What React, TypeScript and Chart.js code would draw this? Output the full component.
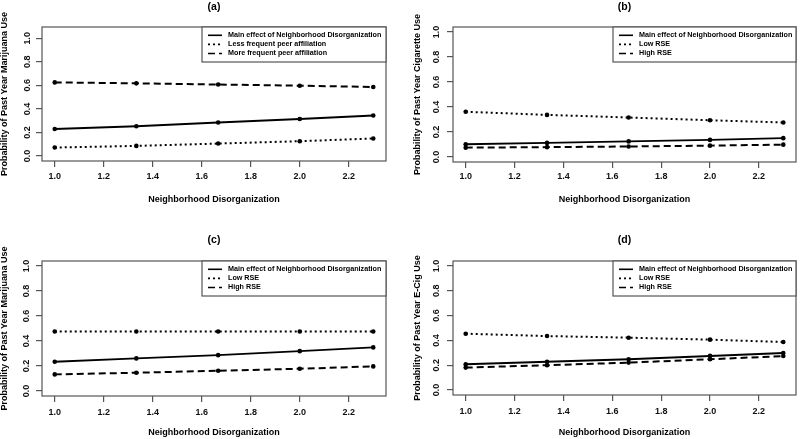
import React, { useEffect, useRef } from 'react';
import { Chart, registerables } from 'chart.js';

Chart.register(...registerables);

// ---------- data ----------
const xValues = [1.0, 1.333, 1.667, 2.0, 2.3];
const xTickValues = [1.0, 1.2, 1.4, 1.6, 1.8, 2.0, 2.2];
const yTickValues = [0.0, 0.2, 0.4, 0.6, 0.8, 1.0];

const mainA = [0.230, 0.253, 0.285, 0.315, 0.344];
const lessPeerA = [0.072, 0.086, 0.106, 0.126, 0.149];
const morePeerA = [0.625, 0.617, 0.607, 0.597, 0.586];

const mainB = [0.102, 0.113, 0.125, 0.137, 0.151];
const lowRseB = [0.362, 0.337, 0.316, 0.294, 0.276];
const highRseB = [0.075, 0.079, 0.084, 0.091, 0.099];

const mainC = [0.234, 0.261, 0.287, 0.319, 0.349];
const lowRseC = [0.476, 0.476, 0.476, 0.476, 0.476];
const highRseC = [0.133, 0.146, 0.162, 0.178, 0.197];

const mainD = [0.208, 0.227, 0.248, 0.275, 0.298];
const lowRseD = [0.454, 0.435, 0.422, 0.406, 0.387];
const highRseD = [0.181, 0.200, 0.221, 0.248, 0.274];

const legendMain = 'Main effect of Neighborhood Disorganization';
const legendPeer = [legendMain, 'Less frequent peer affiliation', 'More frequent peer affiliation'];
const legendRse = [legendMain, 'Low RSE', 'High RSE'];

const panelTitles = ['(a)', '(b)', '(c)', '(d)'];
const yTitles = [
  'Probability of Past Year Marijuana Use',
  'Probability of Past Year Cigarette Use',
  'Probability of Past Year Marijuana Use',
  'Probability of Past Year E-Cig Use',
];
const xTitle = 'Neighborhood Disorganization';

// ---------- styles / layout ----------
const FONT = "'Liberation Sans', Arial, Helvetica, sans-serif";
const AXIS_COLOR = '#555';
const LINE_DASHES = [[], [2, 3], [7, 4]];

type Layout = {
  left: number; top: number; width: number; height: number;
  aL: number; aT: number; aR: number; aB: number;
  yMin: number; yMax: number;
  titleY: number; yTitlePad: number; yTickPad: number; xTickPad: number; xTitlePad: number;
  legendW: number;
};

const layouts: Layout[] = [
  { left: 0, top: 0, width: 400, height: 219, aL: 42, aT: 27, aR: 386, aB: 161, yMin: -0.042, yMax: 1.095,
    titleY: 6.7, yTitlePad: -1, yTickPad: 2.3, xTickPad: 4.3, xTitlePad: 13.6, legendW: 184 },
  { left: 400, top: 0, width: 400, height: 219, aL: 53, aT: 27, aR: 398, aB: 162, yMin: -0.04, yMax: 1.04,
    titleY: 6.7, yTitlePad: 12.4, yTickPad: 4.2, xTickPad: 3.3, xTitlePad: 13.6, legendW: 183 },
  { left: 0, top: 219, width: 400, height: 220, aL: 42, aT: 42, aR: 386, aB: 177, yMin: -0.04, yMax: 1.04,
    titleY: 21, yTitlePad: -1, yTickPad: 3.5, xTickPad: 4.9, xTitlePad: 1.3, legendW: 184 },
  { left: 400, top: 219, width: 400, height: 220, aL: 53, aT: 42, aR: 398, aB: 176, yMin: -0.04, yMax: 1.04,
    titleY: 21, yTitlePad: 12.4, yTickPad: 4, xTickPad: 5.3, xTitlePad: 1.3, legendW: 183 },
];

const panelSeries = [
  [mainA, lessPeerA, morePeerA],
  [mainB, lowRseB, highRseB],
  [mainC, lowRseC, highRseC],
  [mainD, lowRseD, highRseD],
];
const panelLegends = [legendPeer, legendRse, legendRse, legendRse];

// ---------- plugins ----------
const framePlugin = {
  id: 'frameBox',
  beforeDatasetsDraw(chart: any) {
    const { ctx, chartArea } = chart;
    ctx.save();
    ctx.strokeStyle = AXIS_COLOR;
    ctx.lineWidth = 1.2;
    ctx.strokeRect(chartArea.left, chartArea.top, chartArea.right - chartArea.left, chartArea.bottom - chartArea.top);
    ctx.restore();
  },
};

const legendBoxPlugin = {
  id: 'legendBox',
  afterDatasetsDraw(chart: any, _args: any, opts: any) {
    const { ctx, chartArea } = chart;
    const w = opts.width;
    const h = 35;
    const x0 = chartArea.right - w;
    const y0 = chartArea.top;
    ctx.save();
    ctx.fillStyle = '#fff';
    ctx.fillRect(x0, y0, w, h);
    ctx.strokeStyle = AXIS_COLOR;
    ctx.lineWidth = 1.2;
    ctx.strokeRect(x0, y0, w, h);
    chart.data.datasets.forEach((ds: any, i: number) => {
      const y = y0 + 8.3 + i * 9.1;
      ctx.beginPath();
      ctx.setLineDash(ds.borderDash || []);
      ctx.lineWidth = 1.6;
      ctx.strokeStyle = '#000';
      ctx.moveTo(x0 + 6, y);
      ctx.lineTo(x0 + 20, y);
      ctx.stroke();
      ctx.setLineDash([]);
      ctx.fillStyle = '#000';
      ctx.font = `bold 7.2px ${FONT}`;
      ctx.textBaseline = 'middle';
      ctx.textAlign = 'left';
      ctx.fillText(ds.label, x0 + 26, y);
    });
    ctx.restore();
  },
};

const panelTitlePlugin = {
  id: 'panelTitle',
  afterDraw(chart: any, _args: any, opts: any) {
    const { ctx, chartArea } = chart;
    ctx.save();
    ctx.fillStyle = '#000';
    ctx.font = `bold 10.5px ${FONT}`;
    ctx.textAlign = 'center';
    ctx.textBaseline = 'middle';
    ctx.fillText(opts.text, (chartArea.left + chartArea.right) / 2, opts.y);
    ctx.restore();
  },
};

function Panel({ index }: { index: number }) {
  const ref = useRef<HTMLCanvasElement | null>(null);
  useEffect(() => {
    const L = layouts[index];
    const series = panelSeries[index];
    const labels = panelLegends[index];
    const chart = new Chart(ref.current as HTMLCanvasElement, {
      type: 'line',
      data: {
        datasets: series.map((vals, si) => ({
          label: labels[si],
          data: xValues.map((x, k) => ({ x, y: vals[k] })),
          borderColor: '#000',
          backgroundColor: '#000',
          borderWidth: 2,
          borderDash: LINE_DASHES[si],
          pointRadius: 2.3,
          pointBorderWidth: 0,
          pointBackgroundColor: '#000',
          fill: false,
          tension: 0,
        })),
      },
      options: {
        animation: false,
        responsive: false,
        events: [],
        layout: { padding: { left: 0, top: L.aT, right: L.width - L.aR, bottom: 0 } },
        plugins: {
          legend: { display: false },
          tooltip: { enabled: false },
          title: { display: false },
          legendBox: { width: L.legendW },
          panelTitle: { text: panelTitles[index], y: L.titleY },
        } as any,
        scales: {
          x: {
            type: 'linear',
            min: 0.948,
            max: 2.352,
            afterBuildTicks: (scale: any) => { scale.ticks = xTickValues.map((v) => ({ value: v })); },
            afterFit: (scale: any) => { scale.height = L.height - L.aB; },
            ticks: {
              callback: (v: any) => Number(v).toFixed(1),
              color: '#111',
              font: { family: FONT, size: 9, weight: 'bold' },
              padding: L.xTickPad,
              maxRotation: 0,
              minRotation: 0,
              autoSkip: false,
            },
            grid: { display: true, drawOnChartArea: false, drawTicks: true, tickLength: 6, color: AXIS_COLOR, lineWidth: 1.2 },
            border: { display: false },
            title: {
              display: true,
              text: xTitle,
              color: '#000',
              font: { family: FONT, size: 9, weight: 'bold' },
              padding: { top: 0, bottom: L.xTitlePad },
            },
          },
          y: {
            type: 'linear',
            min: L.yMin,
            max: L.yMax,
            afterBuildTicks: (scale: any) => { scale.ticks = yTickValues.map((v) => ({ value: v })); },
            afterFit: (scale: any) => { scale.width = L.aL; },
            ticks: {
              callback: (v: any) => Number(v).toFixed(1),
              color: '#111',
              font: { family: FONT, size: 9, weight: 'bold' },
              padding: L.yTickPad,
              minRotation: 90,
              maxRotation: 90,
              crossAlign: 'center',
              autoSkip: false,
            },
            grid: { display: true, drawOnChartArea: false, drawTicks: true, tickLength: 6, color: AXIS_COLOR, lineWidth: 1.2 },
            border: { display: false },
            title: {
              display: true,
              text: yTitles[index],
              color: '#000',
              font: { family: FONT, size: 9, weight: 'bold' },
              padding: { top: L.yTitlePad, bottom: 0 },
            },
          },
        },
      } as any,
      plugins: [framePlugin, legendBoxPlugin, panelTitlePlugin],
    });
    return () => chart.destroy();
  }, [index]);
  const L = layouts[index];
  return (
    <canvas
      ref={ref}
      width={L.width}
      height={L.height}
      style={{ position: 'absolute', left: L.left, top: L.top, width: L.width, height: L.height, display: 'block' }}
    />
  );
}

export default function App() {
  return (
    <div style={{ position: 'absolute', left: 0, top: 0, width: 800, height: 439, background: '#fff', overflow: 'hidden' }}>
      {[0, 1, 2, 3].map((i) => (
        <Panel key={i} index={i} />
      ))}
    </div>
  );
}
